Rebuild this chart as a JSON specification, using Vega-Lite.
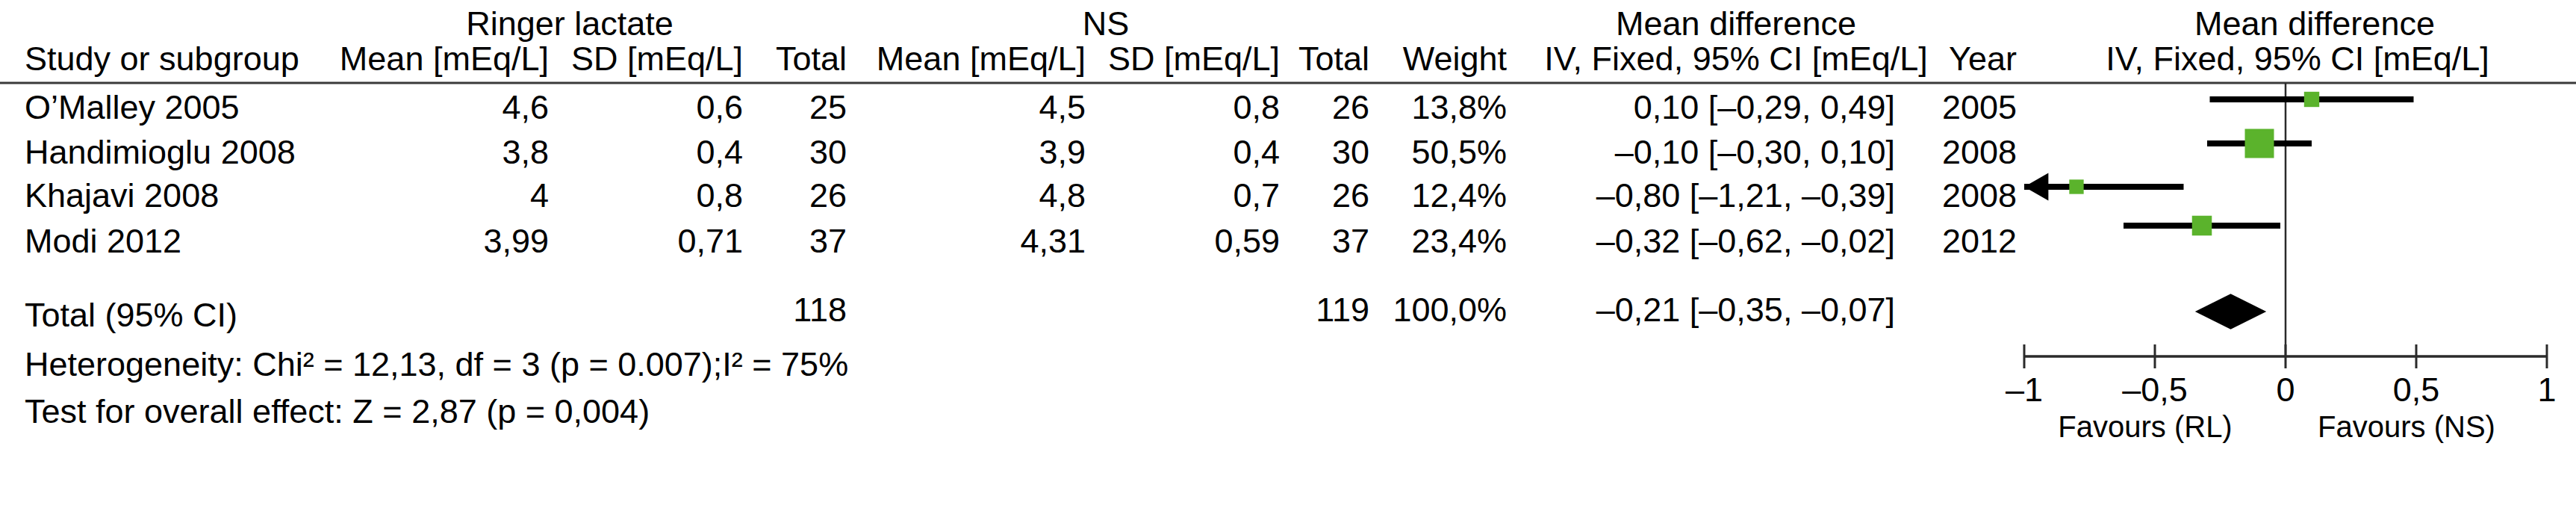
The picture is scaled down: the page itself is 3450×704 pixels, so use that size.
{
  "$schema": "https://vega.github.io/schema/vega-lite/v6.json",
  "width": 3450,
  "height": 704,
  "autosize": {"type": "none"},
  "padding": 0,
  "background": "white",
  "config": {
    "view": {"stroke": null},
    "text": {"font": "Liberation Sans", "fontSize": 45, "color": "#000000", "baseline": "alphabetic"}
  },
  "datasets": {
    "cells": [
      {"text": "Ringer lactate", "row": 0, "col": 3},
      {"text": "NS", "row": 0, "col": 7},
      {"text": "Mean difference", "row": 0, "col": 11},
      {"text": "Mean difference", "row": 0, "col": 15},
      {"text": "Study or subgroup", "row": 1, "col": 1},
      {"text": "Mean [mEq/L]", "row": 1, "col": 2},
      {"text": "SD [mEq/L]", "row": 1, "col": 4},
      {"text": "Total", "row": 1, "col": 5},
      {"text": "Mean [mEq/L]", "row": 1, "col": 6},
      {"text": "SD [mEq/L]", "row": 1, "col": 8},
      {"text": "Total", "row": 1, "col": 9},
      {"text": "Weight", "row": 1, "col": 10},
      {"text": "IV, Fixed, 95% CI [mEq/L]", "row": 1, "col": 11},
      {"text": "Year", "row": 1, "col": 13},
      {"text": "IV, Fixed, 95% CI [mEq/L]", "row": 1, "col": 14},
      {"text": "O’Malley 2005", "row": 3, "col": 1},
      {"text": "4,6", "row": 3, "col": 2},
      {"text": "0,6", "row": 3, "col": 4},
      {"text": "25", "row": 3, "col": 5},
      {"text": "4,5", "row": 3, "col": 6},
      {"text": "0,8", "row": 3, "col": 8},
      {"text": "26", "row": 3, "col": 9},
      {"text": "13,8%", "row": 3, "col": 10},
      {"text": "0,10 [–0,29, 0,49]", "row": 3, "col": 12},
      {"text": "2005", "row": 3, "col": 13},
      {"text": "Handimioglu 2008", "row": 4, "col": 1},
      {"text": "3,8", "row": 4, "col": 2},
      {"text": "0,4", "row": 4, "col": 4},
      {"text": "30", "row": 4, "col": 5},
      {"text": "3,9", "row": 4, "col": 6},
      {"text": "0,4", "row": 4, "col": 8},
      {"text": "30", "row": 4, "col": 9},
      {"text": "50,5%", "row": 4, "col": 10},
      {"text": "–0,10 [–0,30, 0,10]", "row": 4, "col": 12},
      {"text": "2008", "row": 4, "col": 13},
      {"text": "Khajavi 2008", "row": 5, "col": 1},
      {"text": "4", "row": 5, "col": 2},
      {"text": "0,8", "row": 5, "col": 4},
      {"text": "26", "row": 5, "col": 5},
      {"text": "4,8", "row": 5, "col": 6},
      {"text": "0,7", "row": 5, "col": 8},
      {"text": "26", "row": 5, "col": 9},
      {"text": "12,4%", "row": 5, "col": 10},
      {"text": "–0,80 [–1,21, –0,39]", "row": 5, "col": 12},
      {"text": "2008", "row": 5, "col": 13},
      {"text": "Modi 2012", "row": 6, "col": 1},
      {"text": "3,99", "row": 6, "col": 2},
      {"text": "0,71", "row": 6, "col": 4},
      {"text": "37", "row": 6, "col": 5},
      {"text": "4,31", "row": 6, "col": 6},
      {"text": "0,59", "row": 6, "col": 8},
      {"text": "37", "row": 6, "col": 9},
      {"text": "23,4%", "row": 6, "col": 10},
      {"text": "–0,32 [–0,62, –0,02]", "row": 6, "col": 12},
      {"text": "2012", "row": 6, "col": 13},
      {"text": "118", "row": 7, "col": 5},
      {"text": "119", "row": 7, "col": 9},
      {"text": "100,0%", "row": 7, "col": 10},
      {"text": "–0,21 [–0,35, –0,07]", "row": 7, "col": 12},
      {"text": "Total (95% CI)", "row": 8, "col": 1},
      {"text": "Heterogeneity: Chi² = 12,13, df = 3 (p = 0.007);I² = 75%", "row": 9, "col": 1},
      {"text": "Test for overall effect: Z = 2,87 (p = 0,004)", "row": 10, "col": 1}
    ],
    "studies": [
      {"study": "O’Malley 2005", "row": 3, "md": 0.10, "lo": -0.29, "hi": 0.49, "weight": 13.8},
      {"study": "Handimioglu 2008", "row": 4, "md": -0.10, "lo": -0.30, "hi": 0.10, "weight": 50.5},
      {"study": "Khajavi 2008", "row": 5, "md": -0.80, "lo": -1.21, "hi": -0.39, "weight": 12.4},
      {"study": "Modi 2012", "row": 6, "md": -0.32, "lo": -0.62, "hi": -0.02, "weight": 23.4}
    ],
    "total": [
      {"study": "Total (95% CI)", "row": 7, "md": -0.21, "lo": -0.35, "hi": -0.07}
    ],
    "ticks": [
      {"v": -1, "label": "–1"},
      {"v": -0.5, "label": "–0,5"},
      {"v": 0, "label": "0"},
      {"v": 0.5, "label": "0,5"},
      {"v": 1, "label": "1"}
    ],
    "favours": [
      {"v": -0.5, "label": "Favours (RL)"},
      {"v": 0.5, "label": "Favours (NS)"}
    ],
    "tableRule": [{"from": 0, "to": 16, "row": 2}],
    "zeroLine": [{"v": 0, "from": 2, "to": 8}],
    "axisLine": [{"from": -1, "to": 1, "row": 8}]
  },
  "layer": [
    {
      "layer": [
        {
          "data": {"name": "tableRule"},
          "mark": {"type": "rule", "color": "#3a3a3a", "strokeWidth": 3},
          "encoding": {
            "x": {"field": "from", "type": "quantitative", "axis": null,
                  "scale": {"type": "linear", "domain": [0,1,2,3,4,5,6,7,8,9,10,11,12,13,14,15,16], "range": [0,33,735,763,995,1134,1454,1481,1714,1834,2018,2325,2538,2701,3077,3100,3450], "nice": false, "zero": false}},
            "x2": {"field": "to"},
            "y": {"field": "row", "type": "quantitative", "axis": null,
                  "scale": {"type": "linear", "domain": [0,1,2,3,4,5,6,7,8,9,10], "range": [47,94,111,159,219,277,338,430,437,503,566], "nice": false, "zero": false}}
          }
        },
        {
          "data": {"name": "cells"},
          "transform": [{"filter": {"field": "col", "oneOf": [1]}}],
          "mark": {"type": "text", "align": "left", "baseline": "alphabetic"},
          "encoding": {
            "x": {"field": "col", "type": "quantitative", "axis": null},
            "y": {"field": "row", "type": "quantitative", "axis": null},
            "text": {"field": "text"}
          }
        },
        {
          "data": {"name": "cells"},
          "transform": [{"filter": {"field": "col", "oneOf": [2,4,5,6,8,9,10,12,13]}}],
          "mark": {"type": "text", "align": "right", "baseline": "alphabetic"},
          "encoding": {
            "x": {"field": "col", "type": "quantitative", "axis": null},
            "y": {"field": "row", "type": "quantitative", "axis": null},
            "text": {"field": "text"}
          }
        },
        {
          "data": {"name": "cells"},
          "transform": [{"filter": {"field": "col", "oneOf": [3,7,11,14,15]}}],
          "mark": {"type": "text", "align": "center", "baseline": "alphabetic"},
          "encoding": {
            "x": {"field": "col", "type": "quantitative", "axis": null},
            "y": {"field": "row", "type": "quantitative", "axis": null},
            "text": {"field": "text"}
          }
        }
      ]
    },
    {
      "layer": [
        {
          "data": {"name": "zeroLine"},
          "mark": {"type": "rule", "color": "#2a2a2a", "strokeWidth": 2.5},
          "encoding": {
            "x": {"field": "v", "type": "quantitative", "axis": null,
                  "scale": {"type": "linear", "domain": [-1, 1], "range": [2711, 3411], "nice": false, "zero": false, "clamp": true}},
            "y": {"field": "from", "type": "quantitative", "axis": null,
                  "scale": {"type": "linear", "domain": [2,3,4,5,6,7,8,9,10], "range": [111,133,192,250,302,417,477,537,585], "nice": false, "zero": false}},
            "y2": {"field": "to"}
          }
        },
        {
          "data": {"name": "axisLine"},
          "mark": {"type": "rule", "color": "#2a2a2a", "strokeWidth": 3.5},
          "encoding": {
            "x": {"field": "from", "type": "quantitative", "axis": null},
            "x2": {"field": "to"},
            "y": {"field": "row", "type": "quantitative", "axis": null}
          }
        },
        {
          "data": {"name": "ticks"},
          "mark": {"type": "tick", "orient": "vertical", "color": "#2a2a2a", "size": 32, "thickness": 3, "opacity": 1},
          "encoding": {
            "x": {"field": "v", "type": "quantitative", "axis": null},
            "y": {"datum": 8, "type": "quantitative", "axis": null}
          }
        },
        {
          "data": {"name": "ticks"},
          "mark": {"type": "text", "align": "center", "baseline": "alphabetic"},
          "encoding": {
            "x": {"field": "v", "type": "quantitative", "axis": null},
            "y": {"datum": 9, "type": "quantitative", "axis": null},
            "text": {"field": "label"}
          }
        },
        {
          "data": {"name": "favours"},
          "mark": {"type": "text", "align": "center", "baseline": "alphabetic", "fontSize": 40, "dx": -13},
          "encoding": {
            "x": {"field": "v", "type": "quantitative", "axis": null},
            "y": {"datum": 10, "type": "quantitative", "axis": null},
            "text": {"field": "label"}
          }
        },
        {
          "data": {"name": "studies"},
          "mark": {"type": "rule", "color": "#000000", "strokeWidth": 8},
          "encoding": {
            "x": {"field": "lo", "type": "quantitative", "axis": null},
            "x2": {"field": "hi"},
            "y": {"field": "row", "type": "quantitative", "axis": null}
          }
        },
        {
          "data": {"name": "studies"},
          "transform": [{"filter": "datum.lo < -1"}],
          "mark": {"type": "point", "shape": "M0,0L1.75,-1L1.75,1Z", "filled": true, "color": "#000000", "opacity": 1, "size": 1369},
          "encoding": {
            "x": {"field": "lo", "type": "quantitative", "axis": null},
            "y": {"field": "row", "type": "quantitative", "axis": null}
          }
        },
        {
          "data": {"name": "studies"},
          "mark": {"type": "point", "shape": "square", "filled": true, "color": "#5bb32c", "opacity": 1},
          "encoding": {
            "x": {"field": "md", "type": "quantitative", "axis": null},
            "y": {"field": "row", "type": "quantitative", "axis": null},
            "size": {"field": "weight", "type": "quantitative", "legend": null,
                     "scale": {"type": "linear", "domain": [0, 50.5], "range": [0, 1521], "zero": true}}
          }
        },
        {
          "data": {"name": "total"},
          "mark": {"type": "point", "shape": "M-1,0L0,-0.5L1,0L0,0.5Z", "filled": true, "color": "#000000", "opacity": 1, "size": 9100},
          "encoding": {
            "x": {"field": "md", "type": "quantitative", "axis": null},
            "y": {"field": "row", "type": "quantitative", "axis": null}
          }
        }
      ]
    }
  ],
  "resolve": {"scale": {"x": "independent", "y": "independent"}}
}
